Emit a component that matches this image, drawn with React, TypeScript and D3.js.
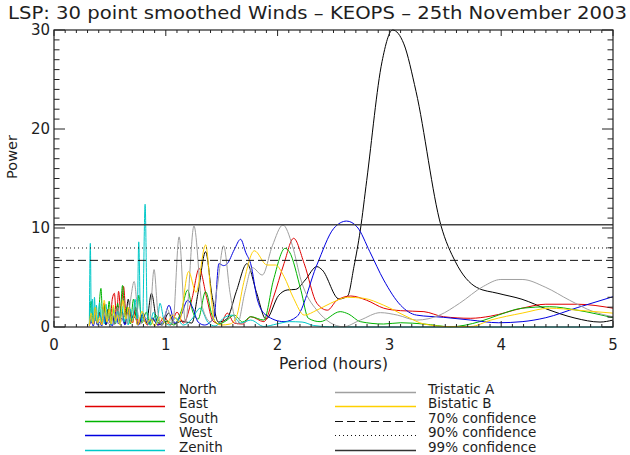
import React from "react";
import * as d3 from "d3";

type Pt = [number, number];

// [period (hours), power]
const north: Pt[] = [
  [0.316, 0.2], [0.332, 0.8], [0.351, 0.2], [0.37, 1.2], [0.389, 0.3], [0.408, 1.5], [0.427, 0.4], [0.446, 1.0],
  [0.465, 0.2], [0.484, 1.8], [0.502, 0.5], [0.521, 1.3], [0.54, 0.3], [0.569, 2.2], [0.588, 0.6], [0.607, 1.6],
  [0.635, 0.3], [0.664, 2.8], [0.692, 0.8], [0.721, 1.5], [0.749, 0.2], [0.787, 1.2], [0.825, 0.4], [0.872, 3.4],
  [0.92, 0.6], [0.967, 0.2], [1.024, 1.4], [1.081, 0.3], [1.138, 0.6], [1.233, 0.4], [1.289, 3.5], [1.356, 7.6],
  [1.413, 3.2], [1.47, 0.5], [1.545, 0.8], [1.631, 3.6], [1.726, 6.4], [1.811, 3.5], [1.896, 0.8], [2.01, 3.2],
  [2.086, 3.74], [2.162, 3.8], [2.247, 4.75], [2.351, 6.1], [2.399, 5.76], [2.55, 2.83], [2.626, 3.13],
  [2.683, 6.1], [2.74, 9.8], [2.797, 14.8], [2.934, 26.8], [3.029, 30.0], [3.129, 28.6], [3.238, 23.8],
  [3.46, 10.3], [3.59, 6.6], [3.78, 4.0], [3.971, 3.4], [4.186, 2.8], [4.41, 1.8], [4.66, 0.9], [4.884, 0.5],
  [5.0, 0.7],
];

const east: Pt[] = [
  [0.316, 0.3], [0.332, 1.2], [0.351, 0.4], [0.37, 2.0], [0.389, 0.5], [0.408, 1.4], [0.427, 0.3], [0.446, 2.4],
  [0.465, 0.6], [0.484, 1.6], [0.502, 0.4], [0.521, 2.8], [0.54, 3.4], [0.559, 1.0], [0.578, 3.6], [0.597, 1.5],
  [0.622, 4.1], [0.645, 1.2], [0.673, 1.9], [0.702, 0.4], [0.73, 2.0], [0.758, 0.3], [0.796, 1.0], [0.834, 0.2],
  [0.882, 0.8], [0.929, 0.2], [0.986, 1.0], [1.043, 0.2], [1.1, 1.5], [1.157, 0.4], [1.233, 2.8], [1.299, 5.9],
  [1.365, 3.0], [1.422, 0.6], [1.489, 0.3], [1.55, 1.4], [1.612, 0.4], [1.688, 0.3], [1.759, 1.04], [1.877, 0.54],
  [1.963, 3.0], [2.057, 6.4], [2.143, 8.96], [2.238, 6.4], [2.351, 2.4], [2.446, 1.7], [2.531, 2.7], [2.655, 3.13],
  [2.797, 2.7], [2.949, 1.9], [3.1, 1.65], [3.309, 1.55], [3.483, 1.04], [3.728, 0.88], [3.907, 1.1], [4.187, 1.9],
  [4.399, 2.3], [4.679, 2.3], [5.0, 1.9],
];

const south: Pt[] = [
  [0.316, 0.2], [0.332, 2.6], [0.351, 0.5], [0.37, 1.5], [0.389, 0.3], [0.42, 3.9], [0.436, 0.8], [0.455, 2.2],
  [0.474, 0.4], [0.493, 2.6], [0.512, 0.6], [0.531, 1.8], [0.55, 0.3], [0.569, 2.4], [0.588, 0.8], [0.613, 4.2],
  [0.635, 1.0], [0.654, 2.0], [0.683, 0.3], [0.711, 2.8], [0.74, 1.0], [0.758, 3.2], [0.787, 0.4], [0.825, 1.5],
  [0.863, 0.2], [0.91, 1.2], [0.958, 0.3], [1.014, 0.6], [1.071, 0.2], [1.138, 1.6], [1.195, 3.74], [1.242, 1.5],
  [1.289, 0.8], [1.356, 3.57], [1.413, 1.2], [1.47, 0.3], [1.536, 0.6], [1.612, 1.2], [1.688, 0.5], [1.759, 1.04],
  [1.877, 0.7], [1.963, 4.75], [2.067, 7.95], [2.105, 7.6], [2.209, 3.7], [2.275, 0.88], [2.38, 0.54], [2.56, 1.55],
  [2.636, 1.3], [2.74, 0.54], [2.949, 0.3], [3.1, 0.43], [3.309, 0.3], [3.546, 0.03], [3.807, 0.54], [3.974, 1.2],
  [4.187, 1.9], [4.433, 2.05], [4.679, 1.7], [5.0, 0.94],
];

const west: Pt[] = [
  [0.316, 0.1], [0.332, 0.6], [0.351, 0.1], [0.37, 0.9], [0.389, 0.2], [0.408, 0.5], [0.427, 0.1], [0.446, 1.2],
  [0.465, 0.3], [0.493, 0.8], [0.521, 0.1], [0.55, 1.5], [0.578, 0.3], [0.607, 0.9], [0.635, 0.2], [0.664, 1.8],
  [0.692, 0.5], [0.721, 1.0], [0.758, 0.2], [0.796, 1.4], [0.834, 0.3], [0.882, 0.9], [0.929, 0.2], [0.977, 0.6],
  [1.029, 2.2], [1.081, 0.4], [1.138, 1.2], [1.195, 2.7], [1.242, 1.9], [1.289, 0.5], [1.346, 0.2], [1.432, 1.0],
  [1.475, 6.4], [1.517, 6.2], [1.55, 6.4], [1.612, 7.8], [1.669, 8.86], [1.716, 7.5], [1.759, 6.4], [1.82, 2.73],
  [1.896, 1.2], [2.057, 0.54], [2.171, 1.04], [2.351, 6.26], [2.503, 9.97], [2.617, 10.7], [2.712, 10.1],
  [2.825, 7.6], [2.949, 4.75], [3.1, 2.2], [3.243, 1.2], [3.483, 0.98], [3.728, 0.7], [3.974, 0.43], [4.187, 0.54],
  [4.399, 0.94], [4.679, 1.95], [5.0, 3.06],
];

const zenith: Pt[] = [
  [0.316, 0.3], [0.325, 8.45], [0.334, 0.5], [0.343, 2.8], [0.353, 0.4], [0.362, 3.0], [0.372, 0.6], [0.379, 2.2],
  [0.393, 0.3], [0.408, 2.5], [0.422, 0.5], [0.436, 1.8], [0.45, 0.3], [0.465, 2.3], [0.479, 0.6], [0.493, 1.5],
  [0.512, 0.2], [0.531, 2.0], [0.55, 0.4], [0.569, 1.6], [0.588, 0.3], [0.607, 2.1], [0.626, 0.5], [0.645, 1.2],
  [0.664, 0.2], [0.683, 1.8], [0.702, 0.6], [0.725, 2.8], [0.744, 0.8], [0.758, 8.6], [0.773, 1.5], [0.792, 0.6],
  [0.815, 12.4], [0.834, 1.2], [0.853, 0.2], [0.891, 1.5], [0.92, 0.3], [0.948, 2.4], [0.986, 0.6], [1.033, 0.2],
  [1.09, 0.9], [1.157, 0.2], [1.233, 0.8], [1.308, 1.9], [1.375, 0.5], [1.441, 0.1], [1.517, 0.9], [1.593, 1.2],
  [1.669, 0.4], [1.759, 0.7], [1.877, 0.05], [1.991, 0.3], [2.105, 0.54], [2.219, 0.5], [2.323, 0.15],
  [2.465, 0.02], [2.844, 0.0], [5.0, 0.0],
];

const tristaticA: Pt[] = [
  [0.316, 0.2], [0.332, 1.0], [0.351, 0.2], [0.37, 1.5], [0.389, 0.3], [0.408, 0.8], [0.427, 0.2], [0.455, 1.4],
  [0.484, 0.3], [0.512, 1.1], [0.54, 0.2], [0.569, 2.0], [0.597, 0.5], [0.626, 1.4], [0.654, 0.3], [0.683, 2.6],
  [0.717, 4.6], [0.749, 1.5], [0.777, 0.3], [0.815, 1.0], [0.853, 0.5], [0.895, 5.8], [0.929, 1.5], [0.967, 0.2],
  [1.014, 1.8], [1.062, 0.3], [1.119, 9.1], [1.176, 0.4], [1.252, 10.2], [1.327, 2.0], [1.403, 0.5], [1.46, 4.0],
  [1.517, 8.2], [1.574, 3.5], [1.64, 0.3], [1.707, 3.5], [1.773, 6.0], [1.863, 5.25], [1.953, 8.2], [2.048, 10.3],
  [2.133, 8.2], [2.209, 4.75], [2.351, 1.7], [2.588, 0.03], [2.74, 0.7], [2.92, 1.45], [3.072, 1.2], [3.243, 0.7],
  [3.449, 1.2], [3.628, 2.4], [3.84, 4.1], [3.997, 4.8], [4.187, 4.8], [4.399, 4.0], [4.612, 2.7], [4.824, 1.55],
  [5.0, 1.04],
];

const bistaticB: Pt[] = [
  [0.316, 0.1], [0.332, 1.4], [0.351, 0.3], [0.37, 2.0], [0.389, 0.4], [0.408, 1.0], [0.427, 0.2], [0.449, 2.7],
  [0.474, 0.5], [0.493, 1.8], [0.512, 0.3], [0.531, 2.2], [0.55, 0.6], [0.569, 1.2], [0.588, 0.2], [0.616, 2.7],
  [0.645, 0.8], [0.664, 2.0], [0.692, 0.4], [0.721, 1.2], [0.749, 0.2], [0.787, 1.6], [0.825, 0.3], [0.863, 0.8],
  [0.901, 0.1], [0.948, 1.0], [1.005, 0.3], [1.062, 1.2], [1.119, 0.5], [1.204, 5.6], [1.27, 3.5], [1.356, 8.3],
  [1.403, 3.5], [1.432, 0.7], [1.498, 0.2], [1.574, 0.3], [1.631, 1.0], [1.697, 4.5], [1.792, 7.7], [1.906, 6.26],
  [1.982, 6.26], [2.057, 5.1], [2.143, 2.9], [2.238, 1.2], [2.351, 1.7], [2.475, 2.4], [2.626, 3.0], [2.769, 2.9],
  [2.949, 2.2], [3.157, 1.04], [3.309, 0.3], [3.546, 0.03], [3.728, 0.05], [3.907, 0.7], [4.187, 1.4],
  [4.433, 1.9], [4.679, 1.7], [5.0, 1.4],
];

const confidence70 = 6.73;
const confidence90 = 7.98;
const confidence99 = 10.33;

const xTicks = [0, 1, 2, 3, 4, 5];
const yTicks = [0, 10, 20, 30];

const seriesNames = ["North", "East", "South", "West", "Zenith", "Tristatic A", "Bistatic B"];
const seriesColors = ["#000000", "#e00000", "#00b400", "#0000e0", "#00c8c8", "#a0a0a0", "#ffd000"];
const seriesData = [north, east, south, west, zenith, tristaticA, bistaticB];

const FONT = "'DejaVu Sans', sans-serif";
const TXT = "#1e1e1e";

export default function App() {
  const left = 54, right = 613, top = 30, bottom = 327;
  const x = d3.scaleLinear().domain([0, 5]).range([left, right]);
  const y = d3.scaleLinear().domain([0, 30]).range([bottom, top]);
  const line = d3
    .line<Pt>()
    .x((d) => x(d[0]))
    .y((d) => y(d[1]))
    .curve(d3.curveMonotoneX);

  const xMinor = d3.range(0, 50.5, 1).map((i) => i / 10);
  const yMinor = d3.range(0, 30.5, 1);
  const xMajLen = 6, xMinLen = 3, yMajLen = 11, yMinLen = 5.5;
  const axisColor = "#222";

  const legendLeft = [0, 1, 2, 3, 4];
  const rowY = [394, 408, 423, 437, 452];
  const lineY = (r: number) => rowY[r] - 1.5;
  const legFs = 13.5;
  const legW = 1.4;

  return (
    <svg width={630} height={455} style={{ position: "absolute", left: 0, top: 0, background: "#fff" }}>
      <rect x={0} y={0} width={630} height={455} fill="#fff" />
      <text x={8} y={19} fontFamily={FONT} fontSize={17.5} textLength={619} lengthAdjust="spacingAndGlyphs" fill={TXT}>
        LSP: 30 point smoothed Winds – KEOPS – 25th November 2003
      </text>

      {/* series */}
      {seriesData.map((s, i) => (
        <path key={i} d={line(s) || ""} fill="none" stroke={seriesColors[i]} strokeWidth={1} />
      ))}

      {/* confidence lines */}
      <line x1={left} x2={right} y1={y(confidence99)} y2={y(confidence99)} stroke="#444" strokeWidth={1.5} />
      <line x1={left} x2={right} y1={y(confidence90)} y2={y(confidence90)} stroke="#111" strokeWidth={1} strokeDasharray="1 3" />
      <line x1={left} x2={right} y1={y(confidence70)} y2={y(confidence70)} stroke="#111" strokeWidth={1} strokeDasharray="8 4" />

      {/* frame */}
      <rect x={left} y={top} width={right - left} height={bottom - top} fill="none" stroke={axisColor} strokeWidth={1.2} />
      {xMinor.map((v, i) => {
        const len = i % 10 === 0 ? xMajLen : xMinLen;
        return (
          <g key={"xt" + i}>
            <line x1={x(v)} x2={x(v)} y1={bottom} y2={bottom - len} stroke={axisColor} />
            <line x1={x(v)} x2={x(v)} y1={top} y2={top + len} stroke={axisColor} />
          </g>
        );
      })}
      {yMinor.map((v, i) => {
        const len = i % 10 === 0 ? yMajLen : yMinLen;
        return (
          <g key={"yt" + i}>
            <line x1={left} x2={left + len} y1={y(v)} y2={y(v)} stroke={axisColor} />
            <line x1={right} x2={right - len} y1={y(v)} y2={y(v)} stroke={axisColor} />
          </g>
        );
      })}
      {xTicks.map((t) => (
        <text key={"xl" + t} x={x(t)} y={350} textAnchor="middle" fontFamily={FONT} fontSize={15} fill={TXT}>
          {t}
        </text>
      ))}
      {yTicks.map((t) => (
        <text key={"yl" + t} x={left - 4} y={y(t)} dy="0.36em" textAnchor="end" fontFamily={FONT} fontSize={15} fill={TXT}>
          {t}
        </text>
      ))}
      <text x={(left + right) / 2} y={369} textAnchor="middle" fontFamily={FONT} fontSize={15.5} fill={TXT}>
        Period (hours)
      </text>
      <text transform={`translate(17, ${157}) rotate(-90)`} textAnchor="middle" fontFamily={FONT} fontSize={14.5} fill={TXT}>
        Power
      </text>

      {/* legend left column */}
      {legendLeft.map((i, r) => (
        <g key={"lg" + i}>
          <line x1={85} x2={165} y1={lineY(r)} y2={lineY(r)} stroke={seriesColors[i]} strokeWidth={legW} />
          <text x={179} y={rowY[r]} fontFamily={FONT} fontSize={legFs} fill={TXT}>
            {seriesNames[i]}
          </text>
        </g>
      ))}
      {/* legend right column */}
      <g>
        <line x1={335} x2={416} y1={lineY(0)} y2={lineY(0)} stroke={seriesColors[5]} strokeWidth={legW} />
        <text x={428} y={rowY[0]} fontFamily={FONT} fontSize={legFs} fill={TXT}>{seriesNames[5]}</text>
        <line x1={335} x2={416} y1={lineY(1)} y2={lineY(1)} stroke={seriesColors[6]} strokeWidth={legW} />
        <text x={428} y={rowY[1]} fontFamily={FONT} fontSize={legFs} fill={TXT}>{seriesNames[6]}</text>
        <line x1={335} x2={416} y1={lineY(2)} y2={lineY(2)} stroke="#111" strokeDasharray="8 4" />
        <text x={428} y={rowY[2]} fontFamily={FONT} fontSize={legFs} fill={TXT}>70% confidence</text>
        <line x1={335} x2={416} y1={lineY(3)} y2={lineY(3)} stroke="#111" strokeDasharray="1 3" />
        <text x={428} y={rowY[3]} fontFamily={FONT} fontSize={legFs} fill={TXT}>90% confidence</text>
        <line x1={335} x2={416} y1={lineY(4)} y2={lineY(4)} stroke="#333" strokeWidth={legW} />
        <text x={428} y={rowY[4]} fontFamily={FONT} fontSize={legFs} fill={TXT}>99% confidence</text>
      </g>
    </svg>
  );
}
